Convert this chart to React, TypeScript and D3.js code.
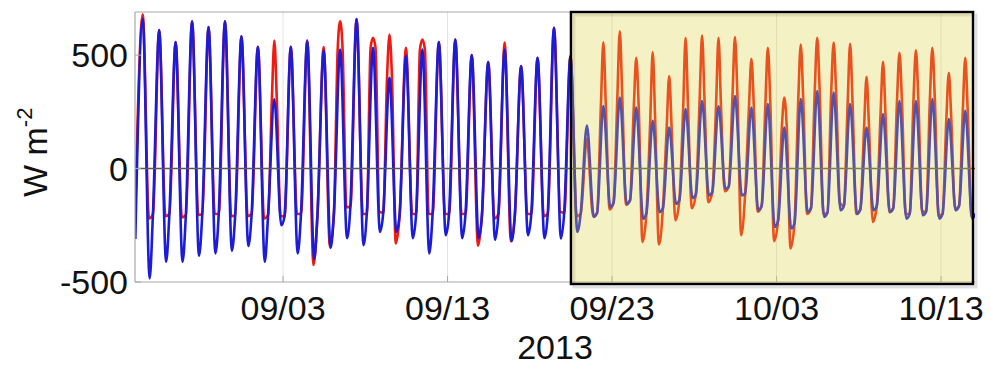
import React from "react";
import * as d3 from "d3";

// ---- data ----
const startDate = new Date(2013, 7, 25, 0, 0);
const endDate = new Date(2013, 9, 15, 1, 30);
const highlightStart = new Date(2013, 8, 20, 12, 0);
const xTickDates = [
  new Date(2013, 8, 3),
  new Date(2013, 8, 13),
  new Date(2013, 8, 23),
  new Date(2013, 9, 3),
  new Date(2013, 9, 13),
];
const yTicks = [-500, 0, 500];
const yDomain = [-500, 690];
const xLabel = "2013";

// daily peak (around 11h), evening minimum, and pre-dawn knee level, one entry per day from 08/25
const bluePeak = [
  660, 610, 558, 649, 624, 649, 583, 537, 305, 537, 561, 520, 525, 659, 532, 400, 496,
  525, 558, 569, 500, 469, 525, 452, 488, 620, 496, 189, 276, 313, 269, 211, 181, 262,
  298, 276, 320, 269, 284, 181, 306, 342, 335, 284, 181, 240, 298, 298, 306, 218, 254,
];
const redPeak = [
  680, 610, 558, 649, 624, 649, 583, 537, 564, 537, 565, 535, 649, 659, 576, 591, 532,
  569, 558, 569, 500, 469, 555, 452, 488, 620, 496, 130, 557, 605, 488, 513, 408, 576,
  586, 576, 580, 484, 532, 313, 547, 576, 555, 550, 404, 471, 510, 521, 532, 422, 488,
];
const blueTrough = [
  -484, -411, -411, -385, -374, -363, -341, -411, -250, -374, -400, -350, -307, -338,
  -279, -279, -307, -374, -294, -307, -307, -314, -320, -294, -307, -308, -279, -213,
  -170, -155, -221, -192, -155, -130, -118, -89, -118, -184, -257, -264, -192, -213,
  -184, -200, -184, -192, -221, -206, -221, -184, -221,
];
const redTrough = [
  -220, -210, -215, -205, -200, -210, -210, -220, -210, -200, -425, -345, -170, -200,
  -190, -330, -200, -200, -200, -200, -340, -220, -320, -200, -210, -190, -210, -210,
  -180, -160, -323, -335, -228, -175, -148, -100, -294, -190, -320, -352, -200, -200,
  -150, -200, -235, -192, -200, -190, -210, -180, -210,
];
const kneeLevel = [
  -200, -200, -205, -200, -200, -205, -200, -205, -210, -200, -205, -200, -170, -200,
  -195, -200, -200, -200, -200, -200, -205, -200, -205, -200, -200, -195, -200, -195,
  -150, -140, -195, -175, -140, -115, -105, -80, -110, -165, -230, -240, -175, -195,
  -165, -180, -165, -175, -200, -190, -200, -165, -200,
];
const blueStart = -310;
const redStart = -170;

// ---- layout ----
const W = 990;
const H = 368;
const plot = { left: 135, right: 975, top: 12, bottom: 282 };
const FONT = "'Liberation Sans', Arial, Helvetica, sans-serif";

const DAY = 86400000;
const PEAK_H = 11.3;

type Pt = [Date, number];

function buildSeries(
  peaks: number[],
  troughs: number[],
  start: number,
  troughLag: number,
  shoulder: number[] | null
): Pt[] {
  const pts: Pt[] = [[new Date(startDate.getTime() + 0.02 * DAY), start]];
  peaks.forEach((p, k) => {
    const t = startDate.getTime() + k * DAY + PEAK_H * 3600000;
    // the red spike leaves the blue curve at the blue peak level
    const sh = shoulder && p > shoulder[k] + 40 ? shoulder[k] : null;
    if (sh !== null) pts.push([new Date(t - 0.15 * DAY), sh]);
    pts.push([new Date(t), p]);
    if (sh !== null) pts.push([new Date(t + 0.15 * DAY), sh]);
    pts.push([new Date(t + troughLag * DAY), troughs[k]]);
    pts.push([new Date(t + 0.62 * DAY), kneeLevel[k]]);
  });
  return pts;
}

const blueSeries = buildSeries(bluePeak, blueTrough, blueStart, 0.42, null);
const redSeries = buildSeries(redPeak, redTrough, redStart, 0.38, bluePeak);

export default function App() {
  const x = d3.scaleTime().domain([startDate, endDate]).range([plot.left, plot.right]);
  const y = d3.scaleLinear().domain(yDomain).range([plot.bottom, plot.top]);
  const line = d3
    .line<Pt>()
    .x((d) => x(d[0]))
    .y((d) => y(d[1]))
    .curve(d3.curveMonotoneX);
  const fmt = d3.timeFormat("%m/%d");

  const boxX = x(highlightStart);
  const boxRight = plot.right - 2;
  return (
    <svg
      width={W}
      height={H}
      style={{ position: "absolute", left: 0, top: 0, background: "#fff" }}
      fontFamily={FONT}
    >
      <defs>
        <clipPath id="plotClip">
          <rect x={plot.left} y={plot.top} width={plot.right - plot.left} height={plot.bottom - plot.top} />
        </clipPath>
      </defs>
      {/* grid */}
      {xTickDates.map((d, i) => (
        <line key={"g" + i} x1={x(d)} x2={x(d)} y1={plot.top} y2={plot.bottom} stroke="#e2e2e2" strokeWidth={1} />
      ))}
      {/* series */}
      <g clipPath="url(#plotClip)">
        <path d={line(redSeries) || ""} fill="none" stroke="#f01a10" strokeWidth={2.6} strokeLinejoin="round" />
        <path d={line(blueSeries) || ""} fill="none" stroke="#1c1cd8" strokeWidth={2.6} strokeLinejoin="round" />
        <line x1={plot.left} x2={plot.right} y1={y(0)} y2={y(0)} stroke="#5a5a5a" strokeWidth={1.6} />
      </g>
      {/* axes frame */}
      <line x1={plot.left} x2={plot.right} y1={plot.top} y2={plot.top} stroke="#a8a8a8" strokeWidth={1.2} />
      <line x1={plot.left} x2={plot.right} y1={plot.bottom} y2={plot.bottom} stroke="#a8a8a8" strokeWidth={1.2} />
      <line x1={plot.left} x2={plot.left} y1={plot.top} y2={plot.bottom} stroke="#a8a8a8" strokeWidth={1.2} />
      {xTickDates.map((d, i) => (
        <line key={"t" + i} x1={x(d)} x2={x(d)} y1={plot.bottom} y2={plot.bottom - 6} stroke="#a8a8a8" strokeWidth={1} />
      ))}
      {yTicks.map((v, i) => (
        <line key={"yt" + i} x1={plot.left} x2={plot.left + 6} y1={y(v)} y2={y(v)} stroke="#a8a8a8" strokeWidth={1} />
      ))}
      {/* highlight box */}
      <rect
        x={boxX + 3}
        y={plot.top + 3}
        width={boxRight - boxX}
        height={plot.bottom + 2 - plot.top}
        fill="none"
        stroke="#000"
        strokeOpacity={0.12}
        strokeWidth={3}
      />
      <rect
        x={boxX}
        y={plot.top}
        width={boxRight - boxX}
        height={plot.bottom + 2 - plot.top}
        fill="#dad03a"
        fillOpacity={0.3}
        stroke="#000"
        strokeWidth={2.4}
      />
      {/* tick labels */}
      {yTicks.map((v, i) => (
        <text key={"yl" + i} x={128} y={y(v) + 12} fontSize={34} textAnchor="end" fill="#111">
          {v}
        </text>
      ))}
      {xTickDates.map((d, i) => (
        <text key={"xl" + i} x={x(d)} y={320} fontSize={34} textAnchor="middle" fill="#111">
          {fmt(d)}
        </text>
      ))}
      <text x={(plot.left + plot.right) / 2} y={359} fontSize={34} textAnchor="middle" fill="#111">
        {xLabel}
      </text>
      <text transform="translate(47,197) rotate(-90)" fontSize={34} fill="#111">
        W m
        <tspan fontSize={22} dy={-15}>
          -2
        </tspan>
      </text>
    </svg>
  );
}
